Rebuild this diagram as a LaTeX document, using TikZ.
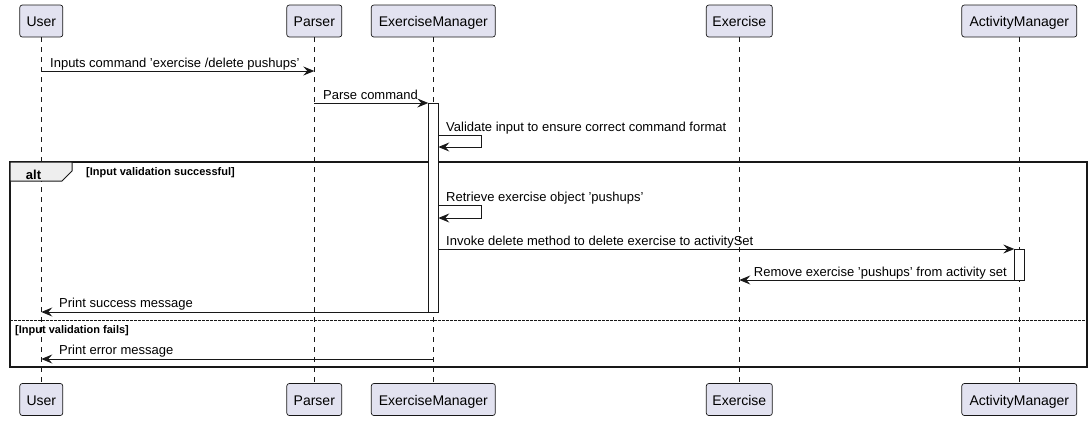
\documentclass[tikz,border=0pt]{standalone}
\usepackage{fontspec}
\setmainfont{Liberation Sans}
\usetikzlibrary{arrows.meta}
\definecolor{pfill}{HTML}{E2E2F0}
\definecolor{pline}{HTML}{181818}
\definecolor{tabfill}{HTML}{EEEEEE}
\begin{document}
\begin{tikzpicture}[x=1pt,y=-1pt,
 part/.style={draw=pline, fill=pfill, rounded corners=2.5pt, line width=0.7pt, minimum height=32pt, inner sep=0pt, text height=12pt, text depth=1pt, font=\fontsize{14}{16}\selectfont, text=black},
 life/.style={draw=pline, dash pattern=on 5pt off 5pt, line width=0.6pt},
 msg/.style={draw=pline, line width=0.9pt, -{Stealth[length=11pt,width=9pt,inset=4pt]}},
 mtxt/.style={font=\fontsize{13}{15}\selectfont, inner sep=0pt, text=black},
 act/.style={draw=pline, fill=white, line width=0.9pt, inner sep=0pt, minimum width=10pt},
 gtxt/.style={font=\bfseries\fontsize{11}{13}\selectfont, inner sep=0pt, text=black},
]
\useasboundingbox (0,0) rectangle (1092,421);
% participants
\node[part, minimum width=43pt] (ut) at (41.3,21) {User};
\node[part, minimum width=55pt] (pt) at (314.3,21) {Parser};
\node[part, minimum width=124pt] (et) at (433.3,21) {ExerciseManager};
\node[part, minimum width=66pt] (xt) at (739.3,21) {Exercise};
\node[part, minimum width=115pt] (at) at (1019.3,21) {ActivityManager};
\node[part, minimum width=43pt] (ub) at (41.3,399.5) {User};
\node[part, minimum width=55pt] (pb) at (314.3,399.5) {Parser};
\node[part, minimum width=124pt] (eb) at (433.3,399.5) {ExerciseManager};
\node[part, minimum width=66pt] (xb) at (739.3,399.5) {Exercise};
\node[part, minimum width=115pt] (ab) at (1019.3,399.5) {ActivityManager};
% lifelines
\draw[life] (ut.south) -- (ub.north);
\draw[life] (pt.south) -- (pb.north);
\draw[life] (et.south) -- (eb.north);
\draw[life] (xt.south) -- (xb.north);
\draw[life] (at.south) -- (ab.north);
% alt frame
\draw[pline, line width=1.5pt] (10,162) rectangle (1087,367);
\draw[pline, fill=tabfill, line width=1pt] (10,162) -- (72,162) -- (72,171) -- (62,181) -- (10,181) -- cycle;
\node[font=\bfseries\fontsize{13}{15}\selectfont, inner sep=0pt, anchor=base] (altl) at (33.5,179) {alt};
\node[gtxt, anchor=base west] (g1) at (86,175) {[Input validation successful]};
\draw[pline, line width=0.7pt, dash pattern=on 2.5pt off 1.5pt] (10,320) -- (1087,320);
\node[gtxt, anchor=base west] (g2) at (15,333) {[Input validation fails]};
% activations
\node[act, minimum height=209pt, anchor=north] (a1) at (433.3,103) {};
\node[act, minimum height=31pt, anchor=north] (a2) at (1019.3,249) {};
% coordinates
\coordinate (m1a) at (41.3,71); \coordinate (m1b) at (314.3,71);
\coordinate (m2a) at (314.3,103); \coordinate (m2b) at (428.3,103);
\coordinate (s1a) at (438.3,135); \coordinate (s1b) at (481,135); \coordinate (s1c) at (481,147); \coordinate (s1d) at (438.3,147);
\coordinate (s2a) at (438.3,205); \coordinate (s2b) at (481,205); \coordinate (s2c) at (481,218); \coordinate (s2d) at (438.3,218);
\coordinate (m3a) at (438.3,249); \coordinate (m3b) at (1014.3,249);
\coordinate (m4a) at (1014.3,280); \coordinate (m4b) at (739.3,280);
\coordinate (m5a) at (428.3,312); \coordinate (m5b) at (41.3,312);
\coordinate (m6a) at (433.3,359); \coordinate (m6b) at (41.3,359);
% messages
\draw[msg] (m1a) -- (m1b);
\node[mtxt, anchor=base west] (t1) at (50,67) {Inputs command 'exercise /delete pushups'};
\draw[msg] (m2a) -- (m2b);
\node[mtxt, anchor=base west] (t2) at (323,99) {Parse command};
\draw[msg] (s1a) -- (s1b) -- (s1c) -- (s1d);
\node[mtxt, anchor=base west] (t3) at (446,131) {Validate input to ensure correct command format};
\draw[msg] (s2a) -- (s2b) -- (s2c) -- (s2d);
\node[mtxt, anchor=base west] (t4) at (446,201) {Retrieve exercise object 'pushups'};
\draw[msg] (m3a) -- (m3b);
\node[mtxt, anchor=base west] (t5) at (446,245) {Invoke delete method to delete exercise to activitySet};
\draw[msg] (m4a) -- (m4b);
\node[mtxt, anchor=base east] (t6) at (1007,276) {Remove exercise 'pushups' from activity set};
\draw[msg] (m5a) -- (m5b);
\node[mtxt, anchor=base west] (t7) at (59,307.5) {Print success message};
\draw[msg] (m6a) -- (m6b);
\node[mtxt, anchor=base west] (t8) at (59,354.5) {Print error message};
\end{tikzpicture}
\end{document}
